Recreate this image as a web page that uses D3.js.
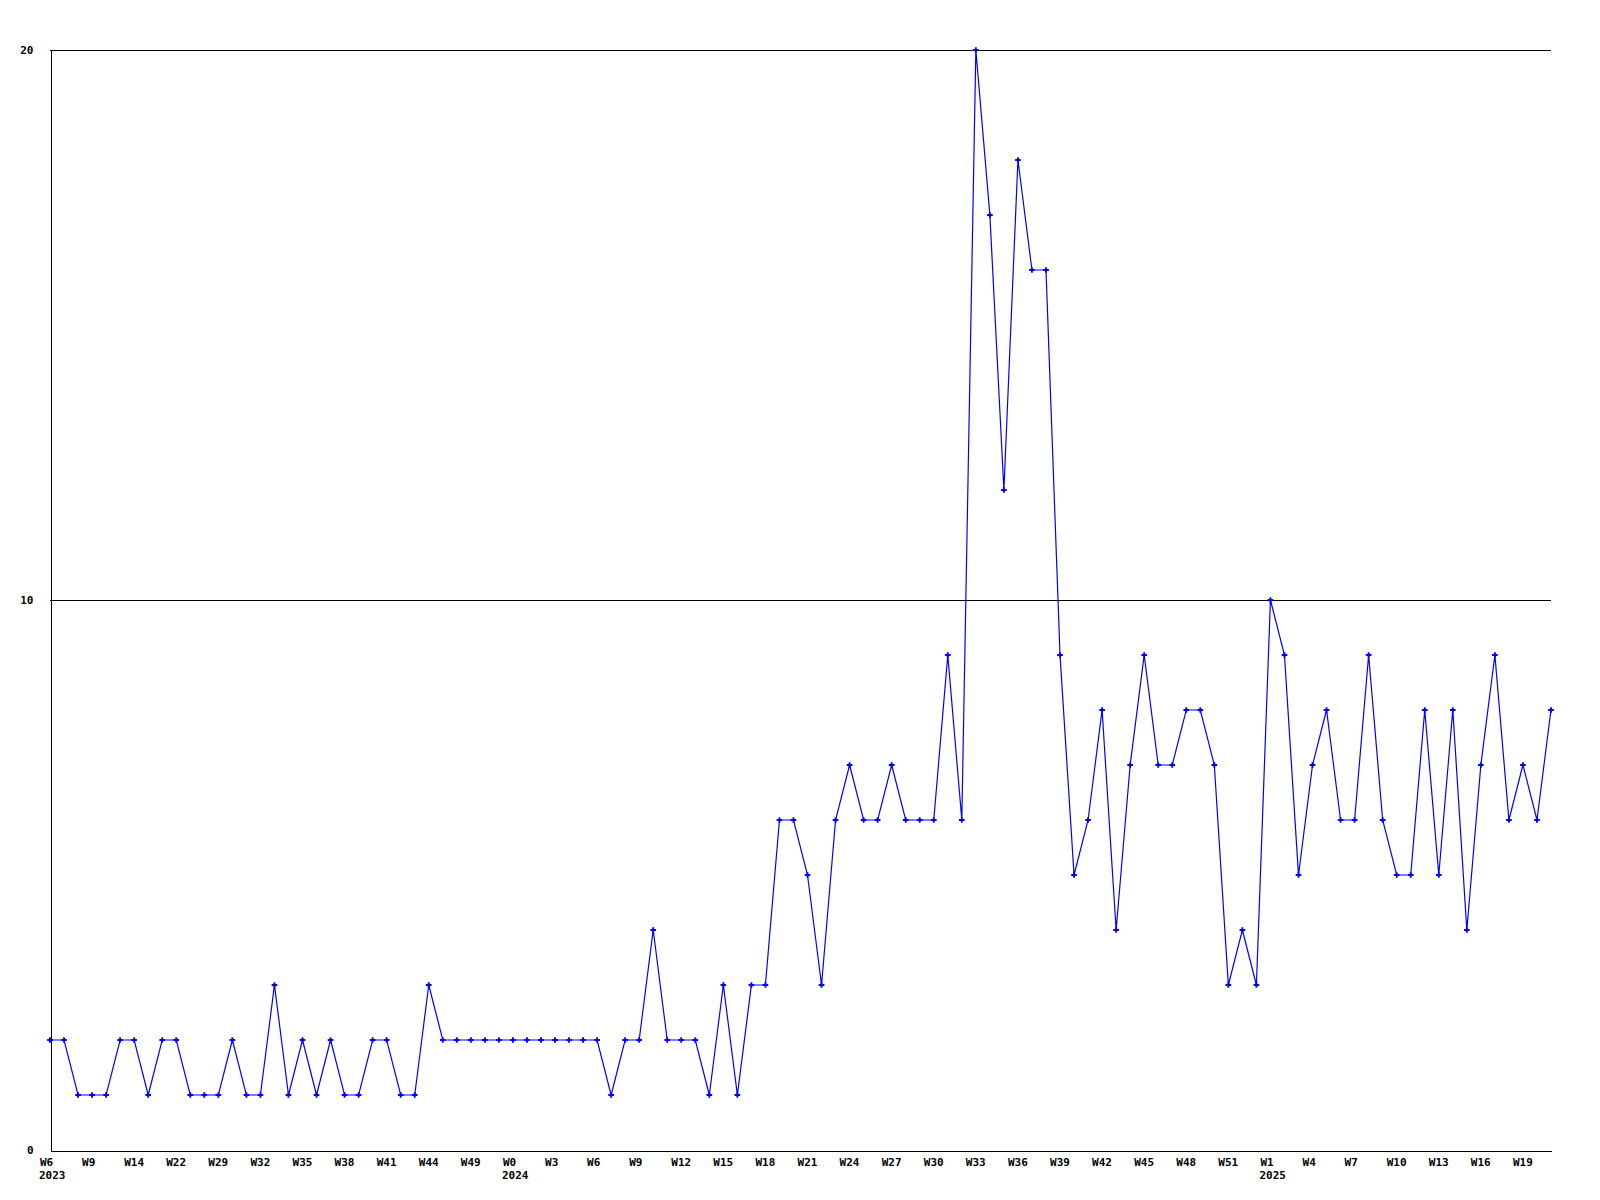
<!DOCTYPE html>
<html>
<head>
<meta charset="utf-8">
<script src="https://cdn.jsdelivr.net/npm/d3@7/dist/d3.min.js"></script>
<style>
  html, body { margin: 0; padding: 0; background: #fff; }
  svg { display: block; }
  text { font-family: "DejaVu Sans Mono", monospace; font-weight: bold; font-size: 11px; fill: #000; }
</style>
</head>
<body>
<svg id="chart" width="1600" height="1200"></svg>
<script>
// Weekly values (one per week shown on the x axis)
const values = [
  2,2,1,1,1,2,2,1,2,2,1,1,1,2,1,1,3,1,2,1,2,1,1,2,2,1,1,3,2,2,
  2,2,2,2,2,2,2,2,2,2,1,2,2,4,2,2,2,1,3,1,3,3,
  6,6,5,3,6,7,6,6,7,6,6,6,9,6,
  20,17,12,18,16,16,9,5,6,8,4,7,9,7,7,8,8,7,3,4,3,
  10,9,5,7,8,6,6,9,6,5,5,8,5,8,4,7,9,6,7,6,8
];
// Tick labels, one every 3 points
const weekLabels = ["W6","W9","W14","W22","W29","W32","W35","W38","W41","W44","W49","W0",
  "W3","W6","W9","W12","W15","W18","W21","W24","W27","W30","W33","W36","W39",
  "W42","W45","W48","W51","W1","W4","W7","W10","W13","W16","W19"];
const tickIndices = weekLabels.map((d, i) => i * 3);
const yearLabels = ["2023","2024","2025"];
const yearIndices = [0, 33, 87];
const yTicks = [0, 10, 20];

const svg = d3.select("#chart");
const pLeft = 50, pRight = 1551, pTop = 50, pBottom = 1150;

const x = d3.scaleLinear().domain([0, values.length - 1]).range([pLeft, pRight]);
const y = d3.scaleLinear().domain([0, 20]).range([pBottom, pTop]);

// gridlines at 10 and 20
svg.append("g")
  .selectAll("line")
  .data(yTicks.filter(d => d > 0))
  .join("line")
  .attr("x1", pLeft).attr("x2", pRight)
  .attr("y1", d => Math.round(y(d)) + 0.5).attr("y2", d => Math.round(y(d)) + 0.5)
  .attr("stroke", "#000").attr("stroke-width", 1)
  .attr("shape-rendering", "crispEdges");

// y axis
const yAxis = svg.append("g")
  .attr("transform", `translate(${pLeft + 0.5},0.5)`)
  .call(d3.axisLeft(y).tickValues(yTicks).tickSize(0).tickSizeOuter(0).tickPadding(17).tickFormat(d3.format("d")));
yAxis.select(".domain").attr("stroke", "#000").attr("shape-rendering", "crispEdges");
yAxis.selectAll("text").attr("font-family", null).attr("font-size", null).attr("dy", "0.3em");

// x axis
const xAxis = svg.append("g")
  .attr("transform", `translate(0.5,${pBottom + 0.5})`)
  .call(d3.axisBottom(x).tickValues(tickIndices).tickSize(0).tickSizeOuter(0).tickPadding(0)
    .tickFormat((d, i) => weekLabels[i]));
xAxis.select(".domain").attr("stroke", "#000").attr("shape-rendering", "crispEdges");
xAxis.selectAll("text")
  .attr("font-family", null).attr("font-size", null)
  .attr("text-anchor", "start").attr("dx", -11).attr("y", 15).attr("dy", 0);

// year labels
svg.append("g")
  .selectAll("text")
  .data(yearIndices)
  .join("text")
  .attr("x", d => x(d) - 11)
  .attr("y", pBottom + 29)
  .text((d, i) => yearLabels[i]);

// line
const line = d3.line().x((d, i) => x(i)).y(d => y(d));
svg.append("path")
  .datum(values)
  .attr("fill", "none")
  .attr("stroke", "#0000ff")
  .attr("stroke-width", 1.2)
  .attr("d", line);

// markers
const cross = d3.symbol().type(d3.symbolCross).size(18);
svg.append("g")
  .selectAll("path")
  .data(values)
  .join("path")
  .attr("transform", (d, i) => `translate(${x(i)},${y(d)})`)
  .attr("d", cross)
  .attr("fill", "#0000ff");
</script>
</body>
</html>
